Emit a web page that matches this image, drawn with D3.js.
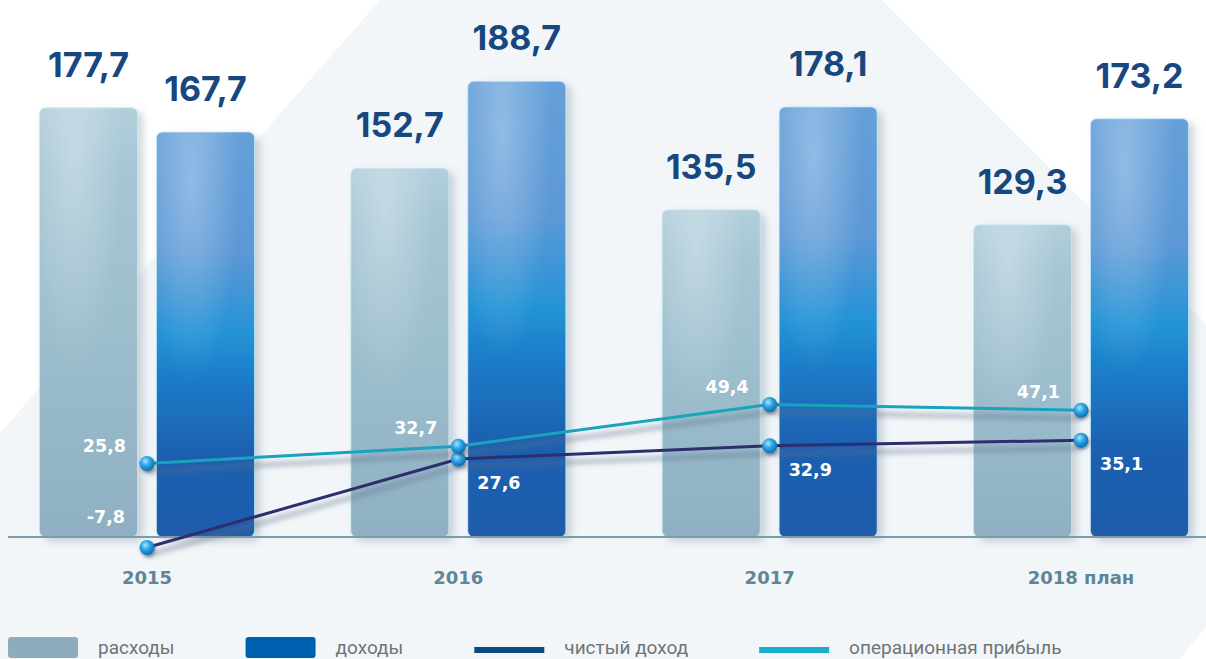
<!DOCTYPE html>
<html>
<head>
<meta charset="utf-8">
<script src="https://cdn.jsdelivr.net/npm/d3@7"></script>
<style>
  body { margin: 0; background: #fff; }
  svg { display: block; }
</style>
</head>
<body>
<div class="stage"></div>
<script>
// chart stage
var width = 1206;
var height = 659;

// data
var years = ['2015', '2016', '2017', '2018 план'];
var expenses = [177.7, 152.7, 135.5, 129.3];   // расходы
var revenues = [167.7, 188.7, 178.1, 173.2];   // доходы
var netIncome = [-7.8, 27.6, 32.9, 35.1];      // чистый доход
var opProfit = [25.8, 32.7, 49.4, 47.1];       // операционная прибыль
var legendLabels = ['расходы', 'доходы', 'чистый доход', 'операционная прибыль'];

var fmt = function(v) { return String(v).replace('.', ','); };

// scales
var x = d3.scalePoint().domain(years).range([147, 1081]);
var sub = d3.scaleBand().domain(['exp', 'rev']).range([-107.5, 107.5]).paddingInner(0.162);
var yBar = d3.scaleLinear().domain([0, 200]).range([537, 54]);
var yLine = d3.scaleLinear().domain([0, 50]).range([528, 403]);

var svg = d3.select('.stage')
  .append('svg')
  .attr('width', width)
  .attr('height', height);

var defs = svg.append('defs');

// light bar gradient
var gExp = defs.append('linearGradient').attr('id', 'gExp')
  .attr('x1', 0).attr('y1', 0).attr('x2', 0).attr('y2', 1);
[[0, '#b2cedb'], [0.15, '#a6c6d4'], [0.5, '#9dbecd'], [1, '#8fb0c2']].forEach(function(s) {
  gExp.append('stop').attr('offset', s[0]).attr('stop-color', s[1]);
});

// dark bar gradient
var gRev = defs.append('linearGradient').attr('id', 'gRev')
  .attr('x1', 0).attr('y1', 0).attr('x2', 0).attr('y2', 1);
[[0, '#66a0da'], [0.3, '#5b98d6'], [0.5, '#2393d6'], [0.62, '#1b7ac6'], [0.8, '#1a5fb0'], [1, '#205cab']].forEach(function(s) {
  gRev.append('stop').attr('offset', s[0]).attr('stop-color', s[1]);
});

// soft highlight on bars
var gHi = defs.append('radialGradient').attr('id', 'gHi')
  .attr('cx', 0.35).attr('cy', 0.12).attr('r', 0.5);
gHi.append('stop').attr('offset', 0).attr('stop-color', '#ffffff').attr('stop-opacity', 0.3);
gHi.append('stop').attr('offset', 1).attr('stop-color', '#ffffff').attr('stop-opacity', 0);

// marker ball
var gDot = defs.append('radialGradient').attr('id', 'gDot')
  .attr('cx', 0.4).attr('cy', 0.35).attr('r', 0.65);
gDot.append('stop').attr('offset', 0).attr('stop-color', '#a8e4ff');
gDot.append('stop').attr('offset', 0.45).attr('stop-color', '#2fa8e6');
gDot.append('stop').attr('offset', 1).attr('stop-color', '#0b6fb3');

var fBar = defs.append('filter').attr('id', 'fBar')
  .attr('x', '-20%').attr('y', '-10%').attr('width', '150%').attr('height', '130%');
fBar.append('feDropShadow').attr('dx', 5).attr('dy', 4).attr('stdDeviation', 4)
  .attr('flood-color', '#6d8494').attr('flood-opacity', 0.35);

var fBlur = defs.append('filter').attr('id', 'fBlur')
  .attr('x', '-10%').attr('y', '-50%').attr('width', '120%').attr('height', '200%');
fBlur.append('feGaussianBlur').attr('stdDeviation', 2.5);

var fDot = defs.append('filter').attr('id', 'fDot')
  .attr('x', '-60%').attr('y', '-60%').attr('width', '220%').attr('height', '220%');
fDot.append('feDropShadow').attr('dx', 1).attr('dy', 2).attr('stdDeviation', 1.5)
  .attr('flood-color', '#1b2a50').attr('flood-opacity', 0.5);

// BACKGROUND
svg.append('rect').attr('width', width).attr('height', height).attr('fill', '#ffffff');
svg.append('path')
  .attr('d', 'M0,433 L380,0 L882,0 L1206,324 L1206,627 L1180,659 L0,659 Z')
  .attr('fill', '#f2f6f9');

// BARS
var bars = [];
years.forEach(function(yr, i) {
  bars.push({ year: yr, key: 'exp', value: expenses[i] });
  bars.push({ year: yr, key: 'rev', value: revenues[i] });
});

var barG = svg.append('g');
var bx = function(d) { return x(d.year) + sub(d.key); };

barG.selectAll('rect.bar')
  .data(bars)
  .enter()
  .append('rect')
  .attr('class', 'bar')
  .attr('x', bx)
  .attr('y', function(d) { return yBar(d.value); })
  .attr('width', sub.bandwidth())
  .attr('height', function(d) { return yBar(0) - yBar(d.value); })
  .attr('rx', 6)
  .attr('fill', function(d) { return d.key === 'exp' ? 'url(#gExp)' : 'url(#gRev)'; })
  .attr('stroke', '#c6ecf8')
  .attr('stroke-opacity', 0.7)
  .attr('stroke-width', 1)
  .attr('filter', 'url(#fBar)');

barG.selectAll('rect.hi')
  .data(bars)
  .enter()
  .append('rect')
  .attr('class', 'hi')
  .attr('x', bx)
  .attr('y', function(d) { return yBar(d.value); })
  .attr('width', sub.bandwidth())
  .attr('height', function(d) { return yBar(0) - yBar(d.value); })
  .attr('rx', 6)
  .attr('fill', 'url(#gHi)');

// value labels over bars
barG.selectAll('text.val')
  .data(bars)
  .enter()
  .append('text')
  .attr('class', 'val')
  .attr('x', function(d) { return bx(d) + sub.bandwidth() / 2; })
  .attr('y', function(d) { return yBar(d.value) - 31; })
  .attr('text-anchor', 'middle')
  .attr('font-family', 'Inter, sans-serif')
  .attr('font-weight', 700)
  .attr('font-size', 34)
  .attr('fill', '#17477e')
  .text(function(d) { return fmt(d.value); });

// baseline
svg.append('line')
  .attr('x1', 8).attr('x2', width)
  .attr('y1', yBar(0)).attr('y2', yBar(0))
  .attr('stroke', '#7e9bab')
  .attr('stroke-width', 2);

// LINES
var series = [
  { name: 'net', values: netIncome, color: '#2d2e6e' },
  { name: 'op', values: opProfit, color: '#1ba2bd' }
];

var line = d3.line()
  .x(function(d, i) { return x(years[i]); })
  .y(function(d) { return yLine(d); });

var lineG = svg.append('g');

series.forEach(function(s) {
  lineG.append('path')
    .attr('d', line(s.values))
    .attr('transform', 'translate(0,8)')
    .attr('fill', 'none')
    .attr('stroke', '#5d6f88')
    .attr('stroke-opacity', 0.4)
    .attr('stroke-width', 5)
    .attr('filter', 'url(#fBlur)');
});

series.forEach(function(s) {
  lineG.append('path')
    .attr('d', line(s.values))
    .attr('fill', 'none')
    .attr('stroke', s.color)
    .attr('stroke-width', 3);
});

series.forEach(function(s) {
  lineG.selectAll('circle.' + s.name)
    .data(s.values)
    .enter()
    .append('circle')
    .attr('class', s.name)
    .attr('cx', function(d, i) { return x(years[i]); })
    .attr('cy', function(d) { return yLine(d); })
    .attr('r', 7.5)
    .attr('fill', 'url(#gDot)')
    .attr('filter', 'url(#fDot)');
});

// line value labels
var smallFont = function(sel) {
  sel.attr('font-family', '"DejaVu Sans", sans-serif')
    .attr('font-weight', 700)
    .attr('font-size', 17.5)
    .attr('fill', '#ffffff');
};

lineG.selectAll('text.op')
  .data(opProfit)
  .enter()
  .append('text')
  .attr('class', 'op')
  .attr('x', function(d, i) { return x(years[i]) - 21; })
  .attr('y', function(d) { return yLine(d) - 12; })
  .attr('text-anchor', 'end')
  .call(smallFont)
  .text(fmt);

lineG.selectAll('text.net')
  .data(netIncome)
  .enter()
  .append('text')
  .attr('class', 'net')
  .attr('x', function(d, i) { return d < 0 ? x(years[i]) - 22 : x(years[i]) + 19; })
  .attr('y', function(d) { return d < 0 ? yLine(d) - 25 : yLine(d) + 30; })
  .attr('text-anchor', function(d) { return d < 0 ? 'end' : 'start'; })
  .call(smallFont)
  .text(fmt);

// category labels
svg.selectAll('text.cat')
  .data(years)
  .enter()
  .append('text')
  .attr('class', 'cat')
  .attr('x', function(d) { return x(d); })
  .attr('y', 584)
  .attr('text-anchor', 'middle')
  .attr('font-family', '"DejaVu Sans", sans-serif')
  .attr('font-weight', 700)
  .attr('font-size', 18)
  .attr('fill', '#5f8598')
  .text(function(d) { return d; });

// LEGEND
var legendColors = ['#8eacbd', '#0060b0', '#0d4a7f', '#1aafc8'];
var legendKinds = ['box', 'box', 'line', 'line'];
var legend = svg.append('g');
var lx = 8;
legendLabels.forEach(function(label, i) {
  if (legendKinds[i] === 'box') {
    legend.append('rect')
      .attr('x', lx).attr('y', 637)
      .attr('width', 70).attr('height', 21)
      .attr('rx', 3)
      .attr('fill', legendColors[i]);
  } else {
    legend.append('rect')
      .attr('x', lx).attr('y', 647)
      .attr('width', 70).attr('height', 6)
      .attr('fill', legendColors[i]);
  }
  var t = legend.append('text')
    .attr('x', lx + 90)
    .attr('y', 654)
    .attr('font-family', 'Roboto, sans-serif')
    .attr('font-size', 19)
    .attr('fill', '#6e7478')
    .text(label);
  lx = lx + 90 + t.node().getComputedTextLength() + 71;
});
</script>
</body>
</html>
